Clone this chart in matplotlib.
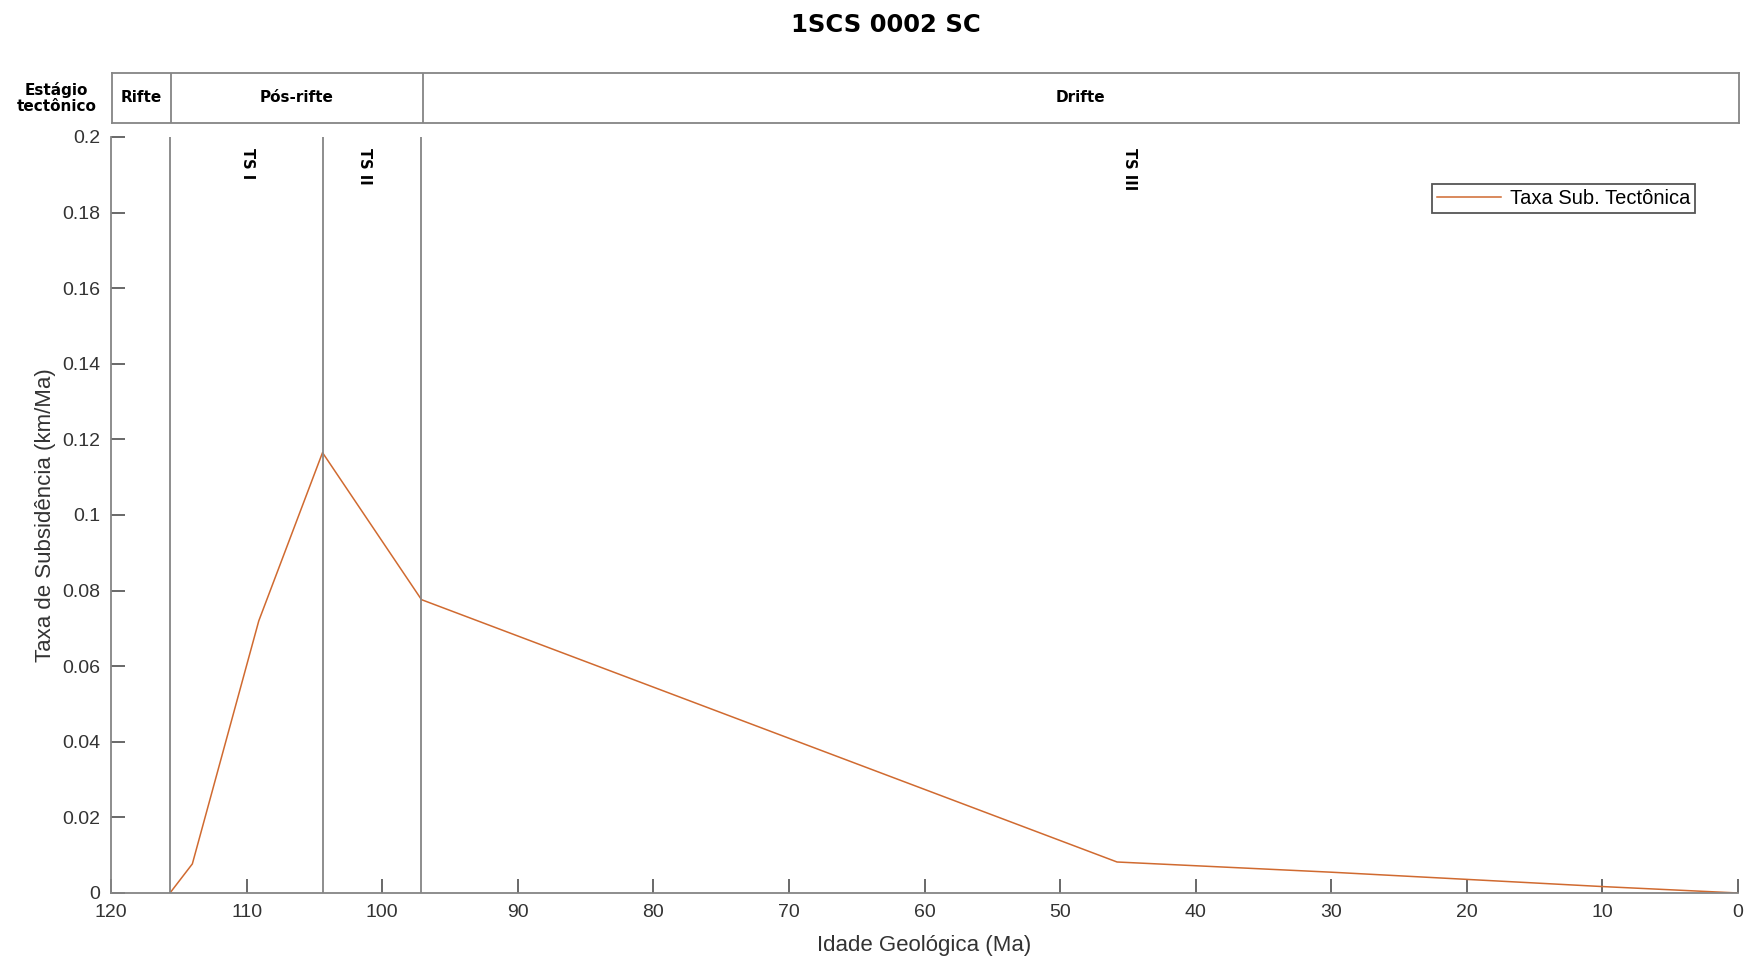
import matplotlib
matplotlib.use('Agg')
import matplotlib.pyplot as plt

plt.rcParams['font.family'] = ['Liberation Sans', 'DejaVu Sans']

# Data: age (Ma) and tectonic subsidence rate (km/Ma)
idade = [115.65, 114.0, 109.1, 104.4, 97.1, 45.8, 30.0, 20.0, 10.0, 0.0]
taxa = [0.0, 0.0077, 0.072, 0.1165, 0.0776, 0.0082, 0.0055, 0.0036, 0.0017, 0.0]

# Stage boundaries (Ma) and labels
limites = [115.65, 104.4, 97.1]
estagios = ['Rifte', 'Pós-rifte', 'Drifte']
estagio_lim = [(120, 115.65), (115.65, 97.1), (97.1, 0)]
ts_labels = ['TS I', 'TS II', 'TS III']
ts_pos = [109.9, 101.3, 44.9]

fig = plt.figure(figsize=(17.48, 9.6), dpi=100)
ax = fig.add_axes([0.0635, 0.0698, 0.9308, 0.7875])
hdr = fig.add_axes([0.0641, 0.8719, 0.9308, 0.0521])

line_col = '#D06A30'
grid_col = '#858585'
heavy = ['DejaVu Sans']

# main plot
ax.plot(idade, taxa, color=line_col, lw=1.1, label='Taxa Sub. Tectônica')
for x in limites:
    ax.axvline(x, color=grid_col, lw=1.3)
for lab, x in zip(ts_labels, ts_pos):
    ax.text(x, 0.197, lab, rotation=-90, ha='center', va='top',
            fontsize=10.5, fontweight='bold', family=heavy)

ax.set_xlim(120, 0)
ax.set_ylim(0, 0.2)
ax.set_xticks(range(120, -1, -10))
ax.set_yticks([0, 0.02, 0.04, 0.06, 0.08, 0.1, 0.12, 0.14, 0.16, 0.18, 0.2])
ax.set_yticklabels(['0', '0.02', '0.04', '0.06', '0.08', '0.1', '0.12',
                    '0.14', '0.16', '0.18', '0.2'])
ax.spines['top'].set_visible(False)
ax.spines['right'].set_visible(False)
for s in ['left', 'bottom']:
    ax.spines[s].set_color(grid_col)
    ax.spines[s].set_linewidth(1.3)
ax.tick_params(direction='in', length=10, width=1.1, color='#404040',
               labelsize=14, labelcolor='#333333')
ax.tick_params(axis='x', pad=8)
ax.tick_params(axis='y', pad=8)
ax.set_xlabel('Idade Geológica (Ma)', fontsize=16, color='#333333', labelpad=10)
ax.set_ylabel('Taxa de Subsidência (km/Ma)', fontsize=16, color='#333333',
              labelpad=4)

leg = ax.legend(loc='upper right', bbox_to_anchor=(0.9735, 0.9375), fontsize=14.5,
                fancybox=False, framealpha=1, edgecolor='#555555',
                handlelength=3.2, borderpad=0.25, handletextpad=0.4,
                borderaxespad=0)
leg.get_frame().set_linewidth(1.3)

# header with tectonic stages
hdr.set_xlim(120, 0)
hdr.set_ylim(0, 1)
hdr.set_xticks([])
hdr.set_yticks([])
for s in hdr.spines.values():
    s.set_color(grid_col)
    s.set_linewidth(1.3)
for x in [115.65, 97.1]:
    hdr.axvline(x, color=grid_col, lw=1.3)
for lab, (a, b) in zip(estagios, estagio_lim):
    hdr.text((a + b) / 2, 0.5, lab, ha='center', va='center',
             fontsize=11, fontweight='bold', family=heavy)

fig.text(0.0325, 0.898, 'Estágio\ntectônico', ha='center', va='center',
         fontsize=11, fontweight='bold', family=heavy, linespacing=1.1)
fig.text(0.507, 0.974, '1SCS 0002 SC', ha='center', va='center',
         fontsize=17.5, fontweight='bold', family=heavy)

fig.savefig('out.png', dpi=100)
